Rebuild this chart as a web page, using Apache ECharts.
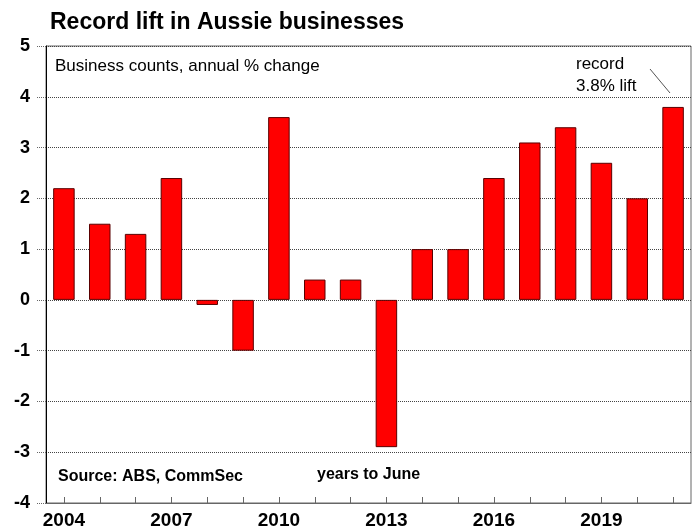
<!DOCTYPE html>
<html>
<head>
<meta charset="utf-8">
<script src="https://cdn.jsdelivr.net/npm/echarts@6/dist/echarts.min.js"></script>
<style>
    html, body { margin: 0; padding: 0; background: #fff; }
    #chart { width: 693px; height: 530px; }
</style>
</head>
<body>
<div id="chart"></div>
<script>
const years = ['2004', '2005', '2006', '2007', '2008', '2009', '2010', '2011', '2012',
    '2013', '2014', '2015', '2016', '2017', '2018', '2019', '2020', '2021']
const changes = [2.2, 1.5, 1.3, 2.4, -0.1, -1.0, 3.6, 0.4, 0.4,
    -2.9, 1.0, 1.0, 2.4, 3.1, 3.4, 2.7, 2.0, 3.8]
const yTicks = [-4, -3, -2, -1, 0, 1, 2, 3, 4, 5]

const font = 'Liberation Sans, Arial, sans-serif'

const option = {
    animation: false,
    backgroundColor: '#fff',
    grid: {
        left: 46,
        right: 2,
        top: 46,
        bottom: 26,
        show: true,
        borderColor: '#666',
        borderWidth: 1
    },
    title: {
        text: 'Record lift in Aussie businesses',
        left: 45,
        top: 6,
        textStyle: {
            fontFamily: font,
            fontSize: 23,
            fontWeight: 'bold',
            color: '#000'
        }
    },
    graphic: [
        {
            type: 'text',
            left: 55,
            top: 58,
            style: { text: 'Business counts, annual % change', font: '17px ' + font, fill: '#000' }
        },
        {
            type: 'text',
            left: 576,
            top: 53,
            style: { text: 'record\n3.8% lift', font: '17px ' + font, fill: '#000', lineHeight: 22 }
        },
        {
            type: 'line',
            shape: { x1: 650, y1: 69, x2: 670, y2: 93 },
            style: { stroke: '#555', lineWidth: 1 }
        },
        {
            type: 'text',
            left: 58,
            top: 469,
            style: { text: 'Source: ABS, CommSec', font: 'bold 16px ' + font, fill: '#000' }
        },
        {
            type: 'text',
            left: 317,
            top: 467,
            style: { text: 'years to June', font: 'bold 16px ' + font, fill: '#000' }
        }
    ],
    xAxis: {
        type: 'category',
        data: years,
        boundaryGap: true,
        axisLine: { onZero: false, lineStyle: { color: '#666', width: 1 } },
        axisTick: {
            show: true,
            inside: true,
            length: 6,
            alignWithLabel: true,
            interval: 0,
            lineStyle: { color: '#666' }
        },
        axisLabel: {
            interval: 2,
            margin: 8,
            fontFamily: font,
            fontSize: 19,
            fontWeight: 'bold',
            color: '#000'
        },
        splitLine: { show: false }
    },
    yAxis: {
        type: 'value',
        min: yTicks[0],
        max: yTicks[yTicks.length - 1],
        interval: 1,
        axisLine: { show: true, lineStyle: { color: '#000', width: 1 } },
        axisTick: {
            show: true,
            length: 9,
            lineStyle: { color: '#666', type: 'dotted' }
        },
        axisLabel: {
            margin: 16,
            fontFamily: font,
            fontSize: 18,
            fontWeight: 'bold',
            color: '#000'
        },
        splitLine: {
            show: true,
            lineStyle: { color: '#444', type: 'dotted', width: 1 }
        }
    },
    series: [
        {
            type: 'bar',
            data: changes,
            barWidth: '60%',
            itemStyle: {
                color: '#ff0000',
                borderColor: '#5a0000',
                borderWidth: 1
            }
        }
    ]
}

const myChart = echarts.init(document.getElementById('chart'))
myChart.setOption(option)
</script>
</body>
</html>
